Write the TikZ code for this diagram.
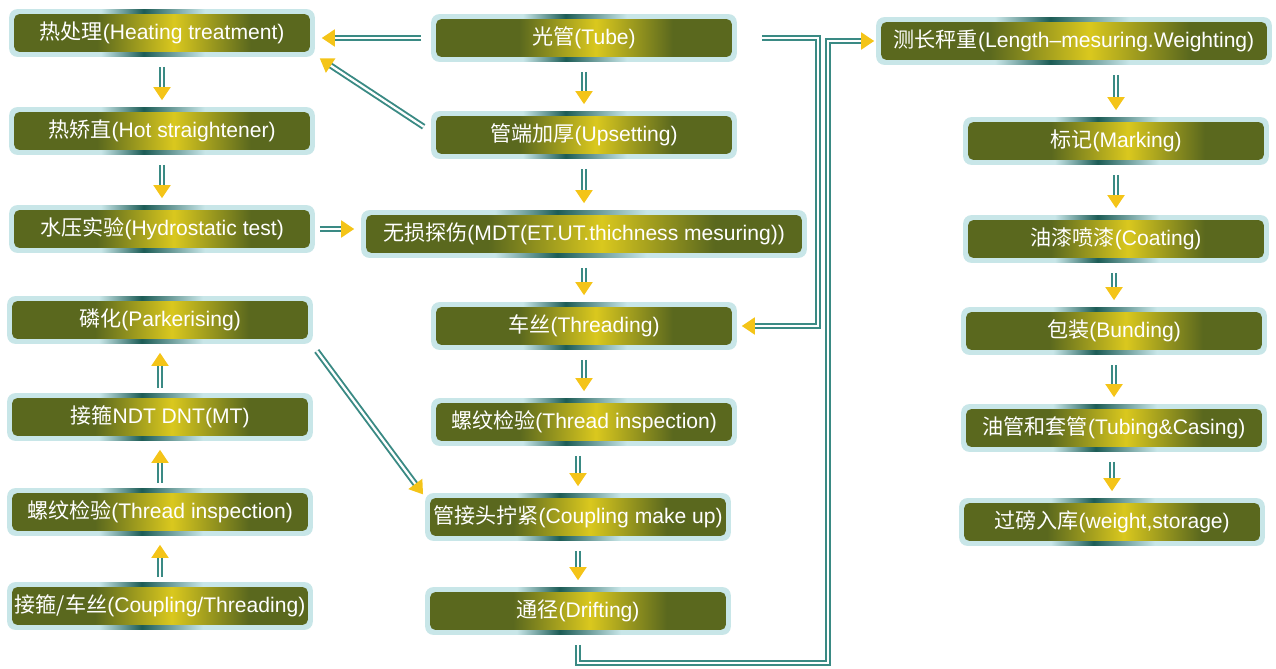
\documentclass[tikz,border=0pt]{standalone}
\usepackage{fontspec}
\setmainfont{Liberation Sans}
\newfontfamily\cjk{Noto Sans CJK SC}
\usetikzlibrary{arrows.meta,backgrounds}
\definecolor{boxdark}{RGB}{90,104,30}
\definecolor{boxlight}{RGB}{218,200,30}
\definecolor{glowcol}{RGB}{200,230,232}
\definecolor{streakcol}{RGB}{28,92,86}
\definecolor{linecol}{RGB}{58,138,132}
\definecolor{arrowcol}{RGB}{244,196,24}
\pgfdeclarehorizontalshading{glowshade}{100bp}{color(0bp)=(glowcol); color(40bp)=(glowcol); color(47bp)=(streakcol); color(57bp)=(glowcol); color(100bp)=(glowcol)}
\pgfdeclarehorizontalshading{boxshade}{100bp}{color(0bp)=(boxdark); color(39bp)=(boxdark); color(52bp)=(boxlight); color(65bp)=(boxdark); color(100bp)=(boxdark)}
\newcommand{\zh}[1]{{\cjk #1}}

\begin{document}
\begin{tikzpicture}[x=0.02cm,y=-0.02cm,
    box/.style={minimum width=5.9cm, minimum height=0.74cm, inner sep=0pt,
      text=white, font=\fontsize{12}{14}\selectfont},
    glow/.style={shading=glowshade, rounded corners=0.16cm},
    fillbox/.style={shading=boxshade, rounded corners=0.1cm},
    flow/.style={draw=linecol, double=white, double distance=1.3pt, line width=1.1pt,
      -{Triangle[length=0.26cm,width=0.34cm,color=arrowcol,fill=arrowcol]},
      shorten <=0.3cm, shorten >=0.24cm}]
  \useasboundingbox (0,0) rectangle (1276,669);

  \node[box] (heat)  at (162,33)  {\zh{热处理}(Heating treatment)};
  \node[box] (hot)   at (162,131) {\zh{热矫直}(Hot straightener)};
  \node[box] (hydro) at (162,229) {\zh{水压实验}(Hydrostatic test)};
  \node[box] (park)  at (160,320) {\zh{磷化}(Parkerising)};
  \node[box] (nmt)   at (160,417) {\zh{接箍}NDT DNT(MT)};
  \node[box] (tinl)  at (160,512) {\zh{螺纹检验}(Thread inspection)};
  \node[box] (cthr)  at (160,606) {\zh{接箍/车丝}(Coupling/Threading)};

  \node[box] (tube)  at (584,38)  {\zh{光管}(Tube)};
  \node[box] (ups)   at (584,135) {\zh{管端加厚}(Upsetting)};
  \node[box, minimum width=8.7cm] (ndt) at (584,234) {\zh{无损探伤}(MDT(ET.UT.thichness mesuring))};
  \node[box] (thr)   at (584,326) {\zh{车丝}(Threading)};
  \node[box] (tin)   at (584,422) {\zh{螺纹检验}(Thread inspection)};
  \node[box] (cmu)   at (578,517) {\zh{管接头拧紧}(Coupling make up)};
  \node[box] (drift) at (578,611) {\zh{通径}(Drifting)};

  \node[box, minimum width=7.7cm] (meas) at (1074,41) {\zh{测长秤重}(Length–mesuring.Weighting)};
  \node[box] (mark)  at (1116,141) {\zh{标记}(Marking)};
  \node[box] (coat)  at (1116,239) {\zh{油漆喷漆}(Coating)};
  \node[box] (bund)  at (1114,331) {\zh{包装}(Bunding)};
  \node[box] (tc)    at (1114,428) {\zh{油管和套管}(Tubing\&Casing)};
  \node[box] (ws)    at (1112,522) {\zh{过磅入库}(weight,storage)};

  \begin{scope}[on background layer]
    \foreach \n in {heat,hot,hydro,park,nmt,tinl,cthr,tube,ups,ndt,thr,tin,cmu,drift,meas,mark,coat,bund,tc,ws}{
      \shade[glow] ([shift={(-0.1cm,-0.1cm)}]\n.south west) rectangle ([shift={(0.1cm,0.1cm)}]\n.north east);
      \shade[fillbox] (\n.south west) rectangle (\n.north east);
    }
  \end{scope}

  \coordinate (t1) at (818,38);
  \coordinate (t2) at (828,663);

  \draw[flow] (tube.west) -- (tube.west -| heat.east);
  \draw[flow] (ups.west) -- (heat.south east);
  \draw[flow] (heat) -- (hot);
  \draw[flow] (hot) -- (hydro);
  \draw[flow, shorten <=0.2cm] (hydro.east) -- (hydro.east -| ndt.west);

  \draw[flow, shorten <=0.2cm, shorten >=0.28cm] (cthr) -- (tinl);
  \draw[flow, shorten <=0.2cm, shorten >=0.28cm] (tinl) -- (nmt);
  \draw[flow, shorten <=0.2cm, shorten >=0.28cm] (nmt) -- (park);
  \draw[flow] (park.south east) -- ([yshift=0.26cm]cmu.west);

  \draw[flow] (tube) -- (ups);
  \draw[flow] (ups) -- (ndt);
  \draw[flow] (ndt) -- (thr);
  \draw[flow] (thr) -- (tin);
  \draw[flow] (tin.south -| cmu) -- (cmu);
  \draw[flow] (cmu) -- (drift);

  \draw[flow, shorten <=0.6cm, shorten >=0.2cm] (tube.east) -- (t1) -- (t1 |- thr.east) -- (thr.east);
  \draw[flow, shorten >=0.14cm] (drift.south) -- (drift.south |- t2) -- (t2) -- (t2 |- meas.west) -- (meas.west);

  \draw[flow] (meas.south -| mark) -- (mark);
  \draw[flow] (mark) -- (coat);
  \draw[flow] (coat.south -| bund) -- (bund);
  \draw[flow] (bund) -- (tc);
  \draw[flow] (tc.south -| ws) -- (ws);
\end{tikzpicture}
\end{document}
